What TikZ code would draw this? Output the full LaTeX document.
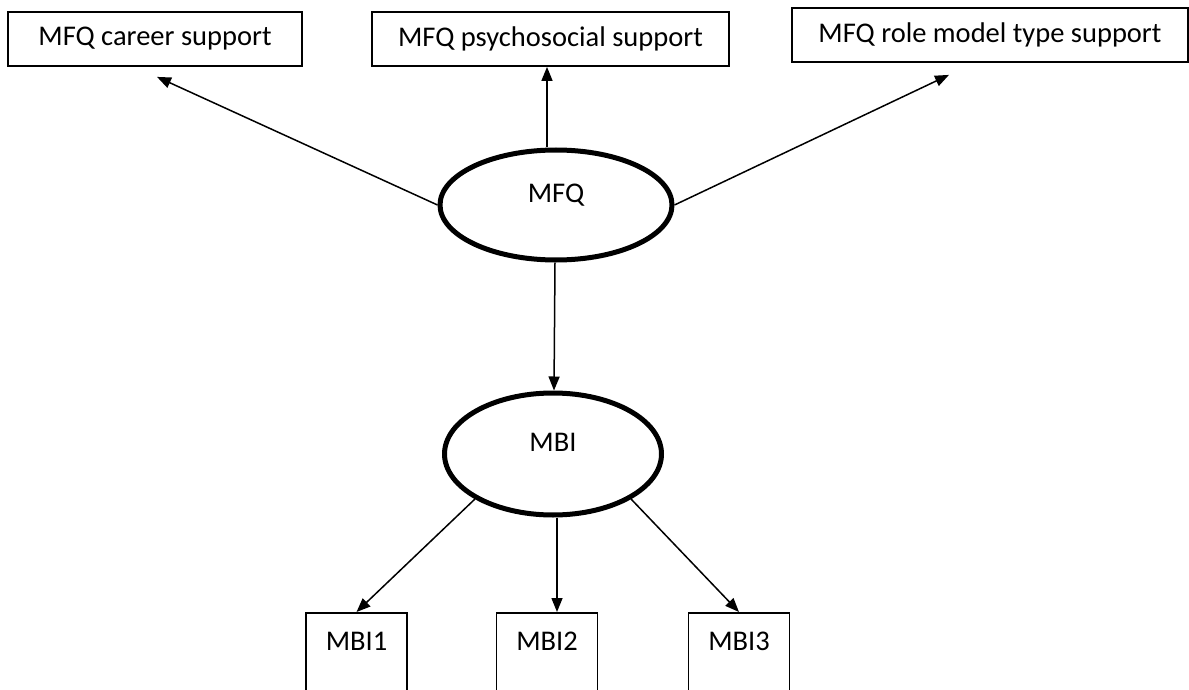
\documentclass[tikz,border=0pt]{standalone}
\usepackage{fontspec}
\setmainfont{Carlito}
\usetikzlibrary{arrows.meta,shapes.geometric}
\begin{document}
\begin{tikzpicture}[x=1pt,y=-1pt,
  txt/.style={font=\fontsize{28.5}{33}\selectfont},
  box/.style={draw, line width=1.8pt, inner sep=0pt, txt},
  oval/.style={ellipse, draw, line width=5pt, inner sep=0pt},
  arr/.style={line width=1.5pt, -{Triangle[length=14pt,width=11pt]}}]
\useasboundingbox (0,0) rectangle (1189,690);
\clip (0,0) rectangle (1189,690);
\node[box, minimum width=294pt, minimum height=54pt] (c1) at (155,39) {MFQ career support};
\node[box, minimum width=357pt, minimum height=54pt] (c2) at (550.5,39) {MFQ psychosocial support};
\node[box, minimum width=396pt, minimum height=54pt] (c3) at (990,35) {MFQ role model type support};
\node[oval, minimum width=232pt, minimum height=110pt,
  label={[txt, yshift=10pt]center:MFQ}] (mfq) at (556,205) {};
\node[oval, minimum width=217pt, minimum height=122pt,
  label={[txt, yshift=12pt]center:MBI}] (mbi) at (553,454) {};
\node[box, anchor=north, minimum width=101pt, text height=38pt, text depth=60pt] (m1) at (356.5,612) {MBI1};
\node[box, anchor=north, minimum width=101pt, text height=38pt, text depth=60pt] (m2) at (547,612) {MBI2};
\node[box, anchor=north, minimum width=101pt, text height=38pt, text depth=60pt] (m3) at (739,612) {MBI3};
\draw[arr] (mfq.west) -- ([xshift=2pt,yshift=-10pt]c1.south);
\draw[arr] ([xshift=-9pt]mfq.north) -- ([xshift=-3.5pt]c2.south);
\draw[arr] (mfq.east) -- ([xshift=-41pt,yshift=-12pt]c3.south);
\draw[arr] ([xshift=-1pt]mfq.south) -- ([xshift=1pt]mbi.north);
\draw[arr] (mbi.210) -- (m1.north);
\draw[arr] ([xshift=4pt]mbi.south) -- ([xshift=10pt]m2.north);
\draw[arr] (mbi.330) -- (m3.north);
\end{tikzpicture}
\end{document}
